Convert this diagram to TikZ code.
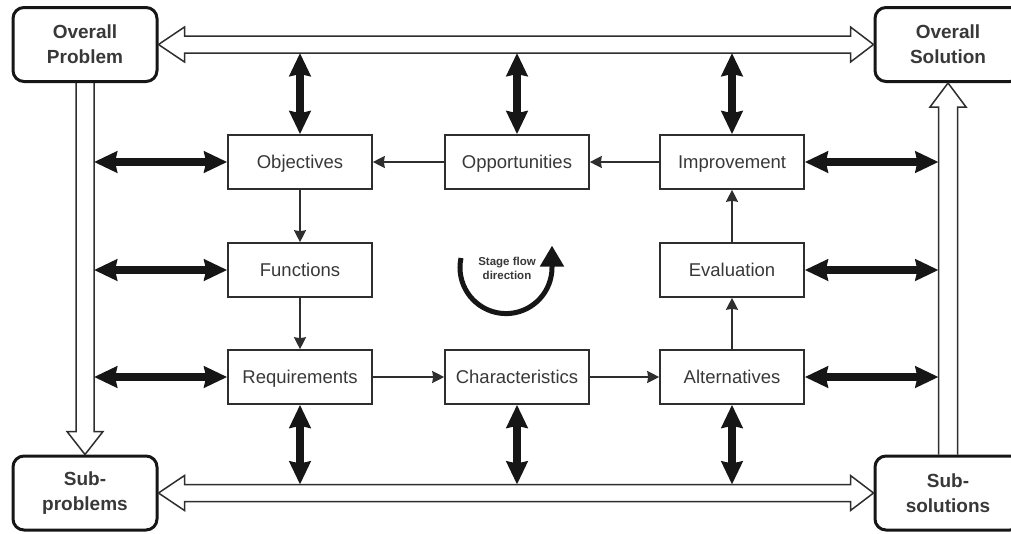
\documentclass[tikz,border=0pt]{standalone}
\usepackage{fontspec}
\setmainfont{Liberation Sans}
\usetikzlibrary{arrows.meta,calc}
\definecolor{ink}{HTML}{2E2E2E}
\definecolor{txt}{HTML}{383838}
\definecolor{heavy}{HTML}{161616}
\begin{document}
\begin{tikzpicture}[x=1pt,y=-1pt,
  stagebox/.style={draw=ink, line width=1.6pt, minimum width=144pt, minimum height=54pt,
    inner sep=0pt, text height=17pt, text depth=3.8pt,
    font=\fontsize{18.5}{22}\selectfont, text=txt},
  endbox/.style={draw=heavy, line width=3pt, rounded corners=11pt, minimum height=74pt,
    align=center, inner sep=0pt, font=\fontsize{19}{25}\selectfont\bfseries, text=txt},
  flow/.style={draw=ink, line width=1.6pt, -{Stealth[length=12pt,width=12pt,inset=1pt]}},
  link/.style={draw=heavy, line width=8pt,
    {Stealth[length=23pt,width=21pt,inset=2pt]}-{Stealth[length=23pt,width=21pt,inset=2pt]}},
  hollow/.style={draw=ink, line width=1.5pt, line join=miter},
]
\useasboundingbox (0,0) rectangle (1011,533);

% corner boxes
\node[endbox, minimum width=144pt] (OP) at (85,44.5) {Overall\\Problem};
\node[endbox, minimum width=146pt] (OS) at (948,44.5) {Overall\\Solution};
\node[endbox, minimum width=144pt] (SP) at (85,493) {Sub-\\problems};
\node[endbox, minimum width=146pt] (SS) at (948,493) {Sub-\\solutions};

% stage boxes
\node[stagebox] (Obj) at (300,162) {Objectives};
\node[stagebox] (Opp) at (517,162) {Opportunities};
\node[stagebox] (Imp) at (732,162) {Improvement};
\node[stagebox] (Fun) at (300,270) {Functions};
\node[stagebox] (Eva) at (732,270) {Evaluation};
\node[stagebox] (Req) at (300,377) {Requirements};
\node[stagebox] (Cha) at (517,377) {Characteristics};
\node[stagebox] (Alt) at (732,377) {Alternatives};

% hollow double arrow along the top
\draw[hollow] (OP.east) -- ++(26,-17.5) -- ++(0,9) -- ($(OS.west)+(-23,-8.5)$) -- ++(0,-9)
  -- (OS.west) -- ++(-23,17.5) -- ++(0,-9) -- ($(OP.east)+(26,8.5)$) -- ++(0,9) -- cycle;
% hollow double arrow along the bottom
\draw[hollow] (SP.east) -- ++(26,-17.5) -- ++(0,9) -- ($(SS.west)+(-23,-8.5)$) -- ++(0,-9)
  -- (SS.west) -- ++(-23,17.5) -- ++(0,-9) -- ($(SP.east)+(26,8.5)$) -- ++(0,9) -- cycle;
% hollow arrow down the left side
\draw[hollow] ($(OP.south)+(-9,0)$) -- ($(SP.north)+(-9,-23)$) -- ++(-9,0) -- (SP.north)
  -- ++(18,-23) -- ++(-9,0) -- ($(OP.south)+(9,0)$);
% hollow arrow up the right side
\draw[hollow] ($(SS.north)+(-9.5,0)$) -- ($(OS.south)+(-9.5,24)$) -- ++(-8.5,0) -- (OS.south)
  -- ++(18,24) -- ++(-8.5,0) -- ($(SS.north)+(9.5,0)$);

% inner edges of the hollow arrows
\coordinate (topin) at ($(OP.east)+(0,8.5)$);
\coordinate (botin) at ($(SP.east)+(0,-8.5)$);
\coordinate (leftin) at ($(OP.south)+(9,0)$);
\coordinate (rightin) at ($(OS.south)+(-9.5,0)$);

% stage flow
\draw[flow] (Opp) -- (Obj);
\draw[flow] (Imp) -- (Opp);
\draw[flow] (Obj) -- (Fun);
\draw[flow] (Fun) -- (Req);
\draw[flow] (Req) -- (Cha);
\draw[flow] (Cha) -- (Alt);
\draw[flow] (Alt) -- (Eva);
\draw[flow] (Eva) -- (Imp);

% heavy two-way links
\draw[link] (Obj.north) -- (Obj.north |- topin);
\draw[link] (Opp.north) -- (Opp.north |- topin);
\draw[link] (Imp.north) -- (Imp.north |- topin);
\draw[link] (Req.south) -- (Req.south |- botin);
\draw[link] (Cha.south) -- (Cha.south |- botin);
\draw[link] (Alt.south) -- (Alt.south |- botin);
\draw[link] (leftin |- Obj.west) -- (Obj.west);
\draw[link] (leftin |- Fun.west) -- (Fun.west);
\draw[link] (leftin |- Req.west) -- (Req.west);
\draw[link] (Imp.east) -- (rightin |- Imp.east);
\draw[link] (Eva.east) -- (rightin |- Eva.east);
\draw[link] (Alt.east) -- (rightin |- Alt.east);

% stage flow direction marker
\node[font=\fontsize{11.5}{14}\selectfont\bfseries, align=center, text=txt] (sf) at (507,268) {Stage flow\\direction};
\draw[heavy, line width=5pt, -{Triangle[length=21pt,width=23pt]}]
  (461,258) arc[start angle=192, end angle=0, radius=46] -- ++(0,-22);
\end{tikzpicture}
\end{document}
